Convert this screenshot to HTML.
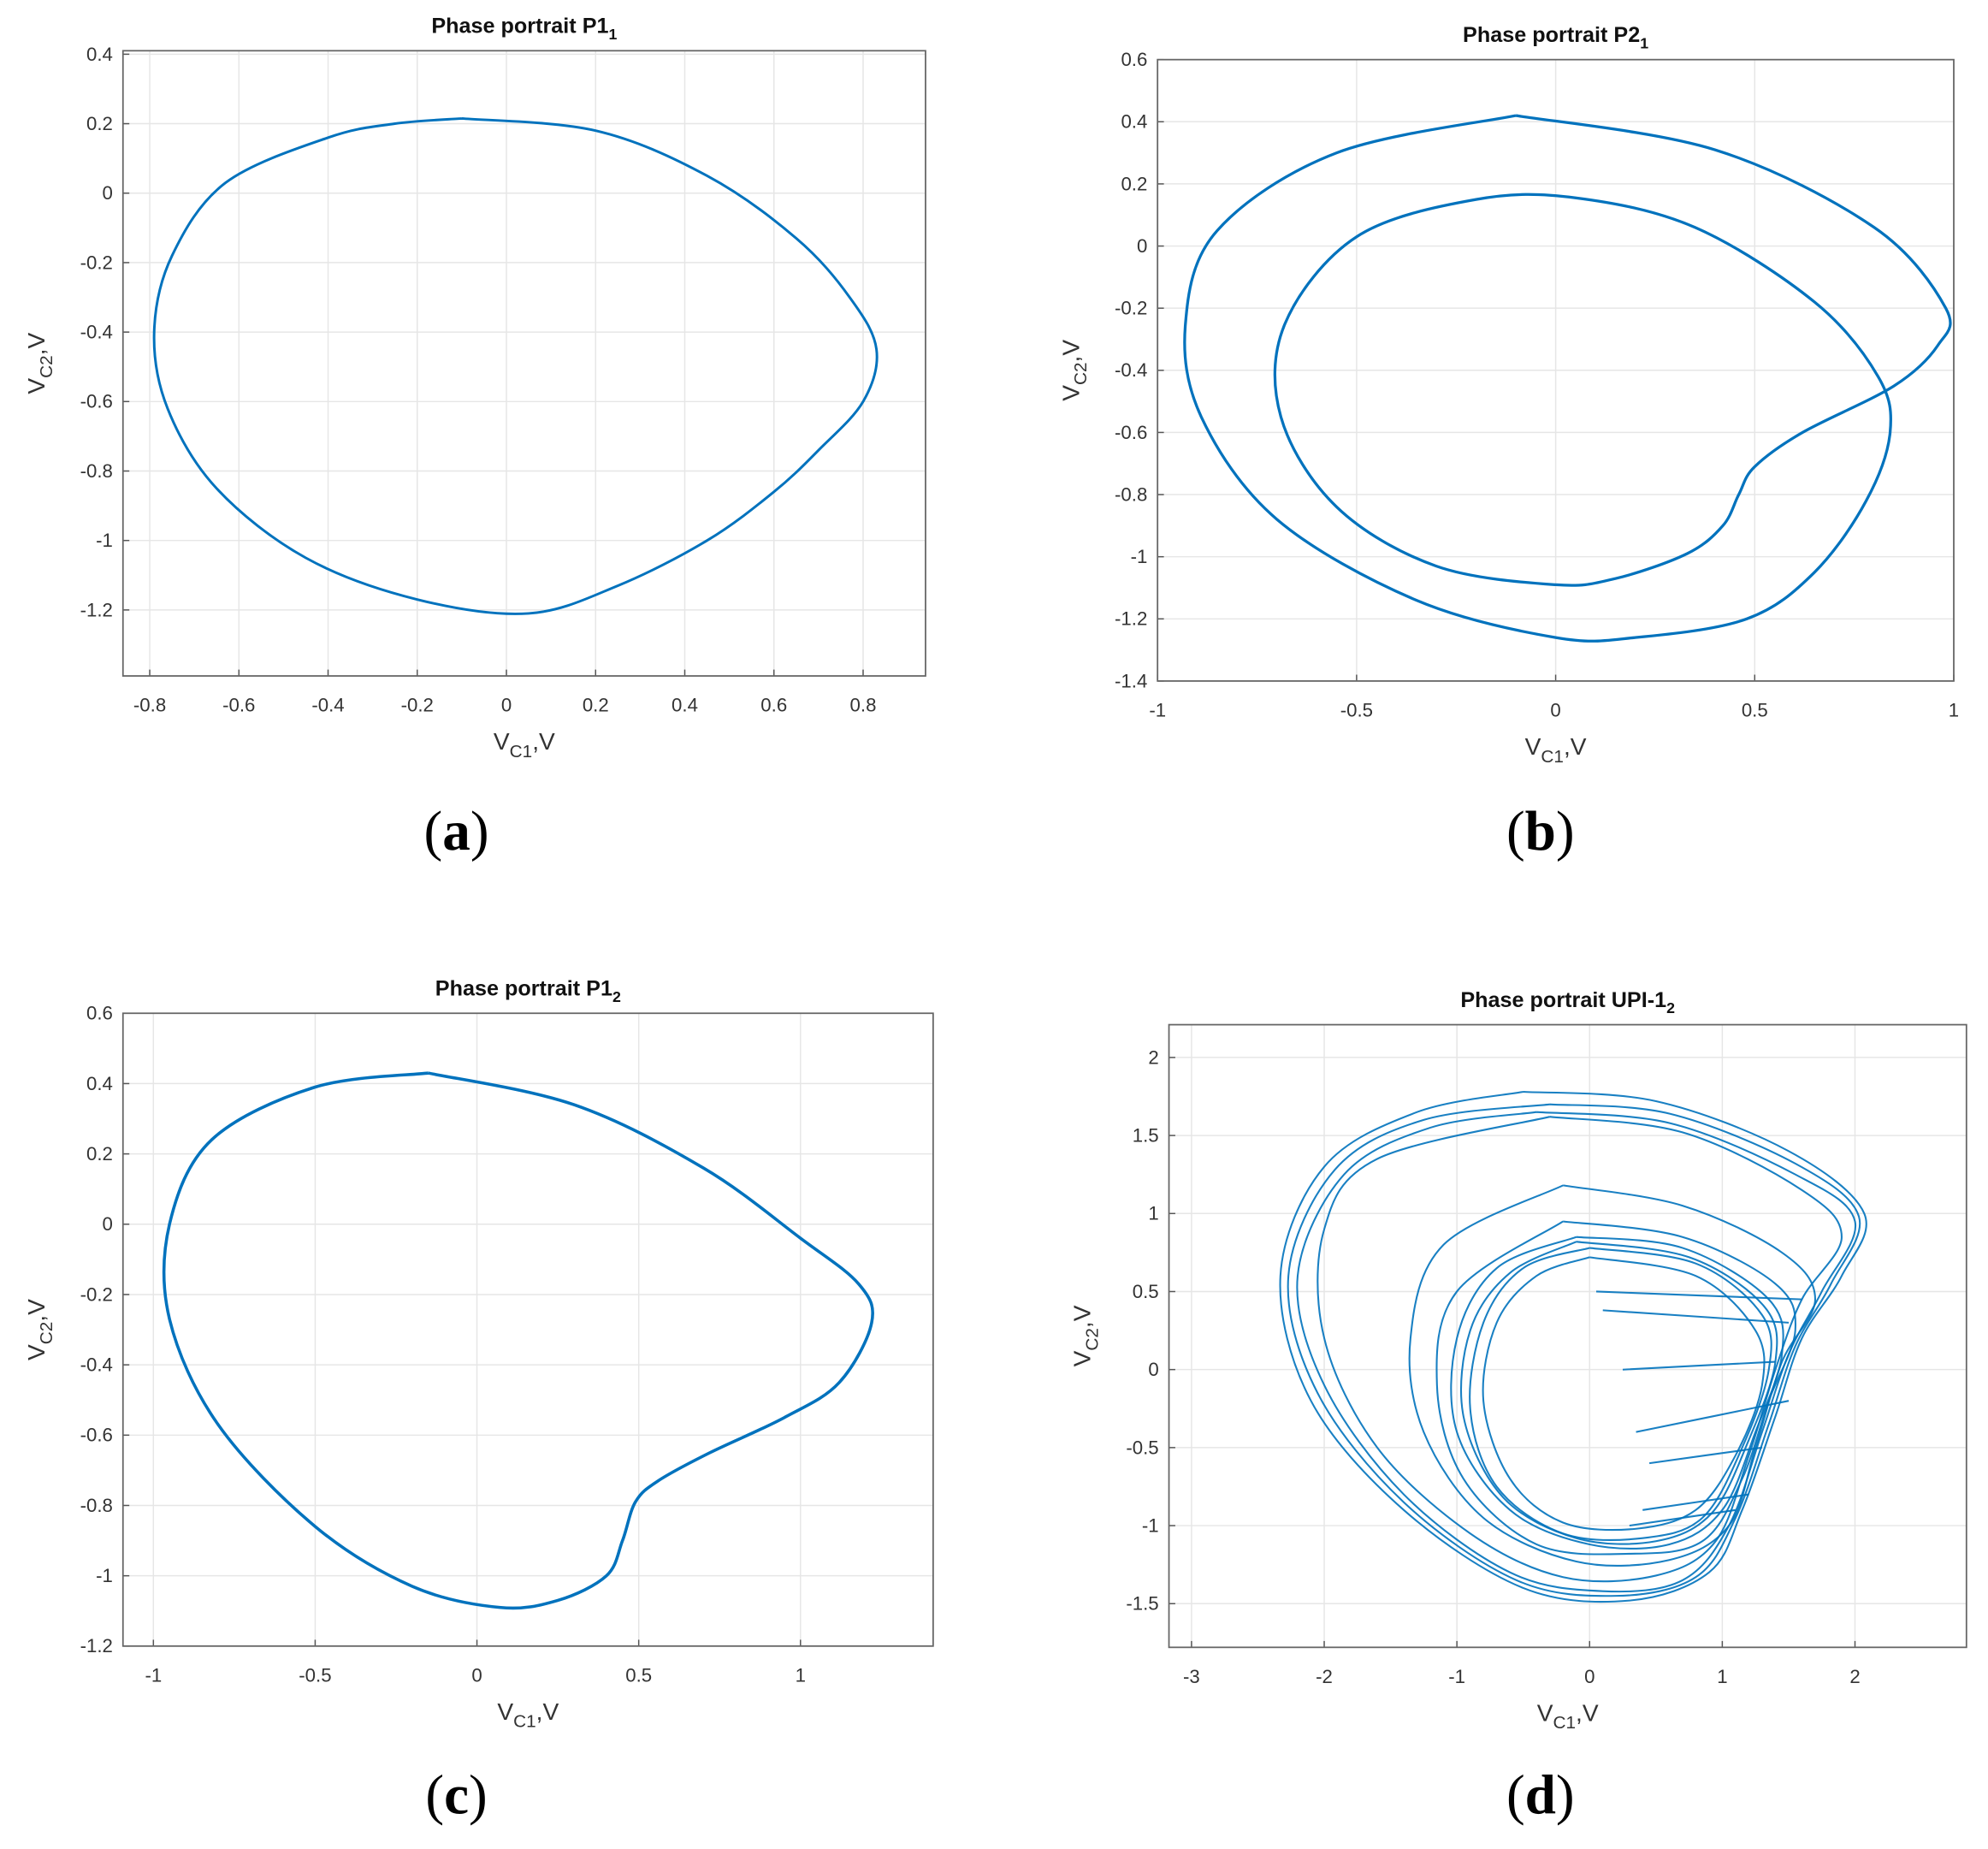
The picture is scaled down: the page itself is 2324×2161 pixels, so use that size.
<!DOCTYPE html>
<html><head><meta charset="utf-8"><style>
html,body{margin:0;padding:0;background:#fff}
svg{display:block}
text{font-family:"Liberation Sans",sans-serif}
</style></head><body>
<svg id="fig" width="2324" height="2161" viewBox="0 0 1568 1458" xmlns="http://www.w3.org/2000/svg"></svg>
<script>
// ---- Data ----
const aTrace=[[-0.1,0.215],[0.2,0.18],[0.45,0.05],[0.65,-0.13],[0.77,-0.3],[0.83,-0.45],[0.8,-0.6],[0.7,-0.74],[0.6,-0.86],[0.45,-1.0],[0.25,-1.13],[0.05,-1.21],[-0.2,-1.17],[-0.45,-1.05],[-0.65,-0.85],[-0.76,-0.62],[-0.79,-0.4],[-0.75,-0.18],[-0.63,0.03],[-0.4,0.16],[-0.25,0.2],[-0.1,0.215]];
const bTrace=[[-0.1,0.42],[0.4,0.31],[0.8,0.06],[0.98,-0.2],[0.96,-0.32],[0.85,-0.45],[0.62,-0.6],[0.5,-0.71],[0.46,-0.8],[0.42,-0.9],[0.33,-0.99],[0.15,-1.07],[0.0,-1.09],[-0.3,-1.03],[-0.55,-0.84],[-0.69,-0.55],[-0.68,-0.25],[-0.5,0.03],[-0.2,0.15],[0.05,0.155],[0.35,0.06],[0.65,-0.18],[0.81,-0.42],[0.84,-0.6],[0.78,-0.82],[0.65,-1.05],[0.48,-1.2],[0.2,-1.26],[0.0,-1.26],[-0.35,-1.14],[-0.7,-0.88],[-0.89,-0.55],[-0.93,-0.25],[-0.85,0.05],[-0.55,0.3],[-0.1,0.42]];
const cTrace=[[-0.15,0.43],[0.3,0.34],[0.7,0.16],[1.0,-0.04],[1.18,-0.17],[1.22,-0.28],[1.12,-0.45],[0.95,-0.55],[0.72,-0.65],[0.56,-0.73],[0.49,-0.79],[0.45,-0.9],[0.4,-1.0],[0.25,-1.07],[0.07,-1.09],[-0.2,-1.03],[-0.5,-0.86],[-0.8,-0.57],[-0.95,-0.27],[-0.95,0.0],[-0.82,0.24],[-0.5,0.39],[-0.15,0.43]];
const dLoops=[
[[-0.5,1.78],[0.5,1.72],[1.5,1.4],[2.07,1.0],[1.9,0.6],[1.6,0.2],[1.4,-0.3],[1.15,-0.9],[0.9,-1.3],[0.3,-1.48],[-0.5,-1.4],[-1.4,-0.9],[-2.1,-0.2],[-2.33,0.6],[-2.0,1.3],[-1.3,1.65],[-0.5,1.78]],
[[-0.4,1.65],[0.6,1.58],[1.55,1.25],[2.0,0.95],[1.75,0.5],[1.5,0.1],[1.3,-0.4],[1.05,-1.0],[0.7,-1.35],[0.1,-1.42],[-0.6,-1.3],[-1.4,-0.8],[-2.0,-0.1],[-2.2,0.6],[-1.85,1.25],[-1.2,1.55],[-0.4,1.65]],
[[-0.3,1.62],[0.7,1.52],[1.6,1.15],[1.9,0.85],[1.6,0.45],[1.4,0.0],[1.2,-0.55],[0.95,-1.1],[0.5,-1.32],[-0.2,-1.33],[-0.9,-1.05],[-1.6,-0.5],[-2.0,0.2],[-2.0,0.9],[-1.6,1.35],[-0.3,1.62]],
[[-0.2,1.18],[0.7,1.05],[1.45,0.75],[1.7,0.45],[1.45,0.05],[1.25,-0.5],[1.05,-1.0],[0.6,-1.22],[-0.1,-1.23],[-0.8,-0.95],[-1.25,-0.4],[-1.35,0.2],[-1.1,0.8],[-0.2,1.18]],
[[-0.2,0.95],[0.7,0.85],[1.4,0.55],[1.55,0.25],[1.35,-0.2],[1.15,-0.7],[0.85,-1.1],[0.3,-1.18],[-0.4,-1.12],[-0.95,-0.7],[-1.15,-0.1],[-1.0,0.5],[-0.2,0.95]],
[[-0.1,0.85],[0.7,0.78],[1.35,0.45],[1.45,0.1],[1.25,-0.4],[1.0,-0.9],[0.6,-1.12],[0.0,-1.12],[-0.6,-0.9],[-1.0,-0.4],[-1.0,0.2],[-0.7,0.65],[-0.1,0.85]],
[[0.0,0.78],[0.8,0.68],[1.3,0.35],[1.35,0.0],[1.15,-0.5],[0.85,-0.95],[0.4,-1.08],[-0.2,-1.05],[-0.7,-0.75],[-0.9,-0.25],[-0.8,0.3],[-0.5,0.65],[0.0,0.78]],
[[0.0,0.72],[0.8,0.6],[1.25,0.25],[1.3,-0.1],[1.1,-0.55],[0.8,-0.9],[0.35,-1.02],[-0.2,-0.98],[-0.6,-0.7],[-0.8,-0.2],[-0.7,0.3],[-0.4,0.6],[0.0,0.72]],
[[-0.1,0.82],[0.75,0.72],[1.32,0.4],[1.4,0.05],[1.2,-0.45],[0.92,-0.92],[0.5,-1.1],[-0.1,-1.08],[-0.65,-0.82],[-0.95,-0.3],[-0.9,0.25],[-0.6,0.62],[-0.1,0.82]],
[[-0.3,1.7],[0.6,1.64],[1.55,1.32],[2.03,0.98],[1.82,0.55],[1.55,0.15],[1.35,-0.35],[1.1,-0.95],[0.8,-1.33],[0.2,-1.45],[-0.55,-1.35],[-1.4,-0.85],[-2.05,-0.15],[-2.27,0.6],[-1.92,1.28],[-1.25,1.6],[-0.3,1.7]]];
const dSpikes=[[[0.05,0.5],[1.6,0.45]],[[0.1,0.38],[1.5,0.3]],[[0.25,0.0],[1.4,0.05]],[[0.35,-0.4],[1.5,-0.2]],[[0.45,-0.6],[1.3,-0.5]],[[0.4,-0.9],[1.2,-0.8]],[[0.3,-1.0],[1.1,-0.9]]];
const aX=[-0.8,-0.6,-0.4,-0.2,0,0.2,0.4,0.6,0.8], aY=[0.4,0.2,0,-0.2,-0.4,-0.6,-0.8,-1,-1.2];
const bX=[-1,-0.5,0,0.5,1], bY=[0.6,0.4,0.2,0,-0.2,-0.4,-0.6,-0.8,-1,-1.2,-1.4];
const cX=[-1,-0.5,0,0.5,1], cY=[0.6,0.4,0.2,0,-0.2,-0.4,-0.6,-0.8,-1,-1.2];
const dX=[-3,-2,-1,0,1,2], dY=[2,1.5,1,0.5,0,-0.5,-1,-1.5];

const NS="http://www.w3.org/2000/svg", svg=document.getElementById('fig');
function el(t,a,p){const e=document.createElementNS(NS,t);for(const k in a)e.setAttribute(k,a[k]);(p||svg).appendChild(e);return e;}
function smooth(pts,sx,sy){const P=pts.map(p=>[sx(p[0]),sy(p[1])]);let d='M'+P[0][0].toFixed(1)+','+P[0][1].toFixed(1);
 for(let i=0;i<P.length-1;i++){const p0=P[Math.max(0,i-1)],p1=P[i],p2=P[i+1],p3=P[Math.min(P.length-1,i+2)];
 d+=' C'+(p1[0]+(p2[0]-p0[0])/6).toFixed(1)+','+(p1[1]+(p2[1]-p0[1])/6).toFixed(1)+' '+(p2[0]-(p3[0]-p1[0])/6).toFixed(1)+','+(p2[1]-(p3[1]-p1[1])/6).toFixed(1)+' '+p2[0].toFixed(1)+','+p2[1].toFixed(1);}return d;}
function panel(o){
 const g=el('g',{});
 const sx=v=>o.L+(v-o.x0)/(o.x1-o.x0)*(o.R-o.L), sy=v=>o.B-(v-o.y0)/(o.y1-o.y0)*(o.B-o.T);
 o.xt.forEach(v=>{const l=el('line',{x1:sx(v),x2:sx(v),y1:o.T,y2:o.B,stroke:'#e6e6e6','stroke-width':1},g);
  el('line',{x1:sx(v),x2:sx(v),y1:o.B,y2:o.B-5,stroke:'#555'},g);
  const t=el('text',{x:sx(v),y:o.B+28,'font-size':15,'text-anchor':'middle',fill:'#333'},g);t.textContent=v;});
 o.yt.forEach(v=>{const l=el('line',{x1:o.L,x2:o.R,y1:sy(v),y2:sy(v),stroke:'#e6e6e6','stroke-width':1},g);
  el('line',{x1:o.L,x2:o.L+5,y1:sy(v),y2:sy(v),stroke:'#555'},g);
  const t=el('text',{x:o.L-8,y:sy(v)+5,'font-size':15,'text-anchor':'end',fill:'#333'},g);t.textContent=v;});
 const fr=el('rect',{x:o.L,y:o.T,width:o.R-o.L,height:o.B-o.T,fill:'none',stroke:'#666','stroke-width':1.2},g);
 o.traces.forEach(tr=>{const p=el('path',{d:smooth(tr,sx,sy),fill:'none',stroke:'#0072bd','stroke-width':o.lw,'stroke-linejoin':'round','stroke-opacity':o.op||1},g);});
 const ti=el('text',{x:(o.L+o.R)/2,y:o.T-14,'font-size':17,'font-weight':'bold','text-anchor':'middle',fill:'#111'},g);ti.innerHTML=o.title+'<tspan font-size="12" dy="5">'+o.sub+'</tspan>';
 const xl=el('text',{x:(o.L+o.R)/2,y:o.B+58,'font-size':19,'text-anchor':'middle',fill:'#333'},g);xl.innerHTML='V<tspan font-size="14" dy="6">C1</tspan><tspan dy="-6">,V</tspan>';
 const yl=el('text',{x:0,y:0,'font-size':19,'text-anchor':'middle',fill:'#333',transform:'translate('+(o.L-62)+','+(o.T+o.B)/2+') rotate(-90)'},g);yl.innerHTML='V<tspan font-size="14" dy="6">C2</tspan><tspan dy="-6">,V</tspan>';
 const lb=el('text',{x:o.lx,y:o.ly,'font-size':44,'text-anchor':'middle',fill:'#000',style:'font-family:"Liberation Serif",serif'},g);lb.innerHTML='(<tspan font-weight="bold">'+o.letter+'</tspan>)';
}
panel({name:'panel-a',L:97,R:730,T:40,B:533,x0:-0.86,x1:0.94,y0:-1.39,y1:0.41,xt:aX,yt:aY,traces:[aTrace],lw:2,title:'Phase portrait P1',sub:'1',letter:'a',lx:360,ly:670});
panel({name:'panel-b',L:913,R:1541,T:47,B:537,x0:-1,x1:1,y0:-1.4,y1:0.6,xt:bX,yt:bY,traces:[bTrace],lw:2.2,title:'Phase portrait P2',sub:'1',letter:'b',lx:1215,ly:670});
panel({name:'panel-c',L:97,R:736,T:799,B:1298,x0:-1.094,x1:1.41,y0:-1.2,y1:0.6,xt:cX,yt:cY,traces:[cTrace],lw:2.4,title:'Phase portrait P1',sub:'2',letter:'c',lx:360,ly:1430});
panel({name:'panel-d',L:922,R:1551,T:808,B:1299,x0:-3.17,x1:2.84,y0:-1.78,y1:2.21,xt:dX,yt:dY,traces:dLoops.concat(dSpikes),lw:1.4,op:0.9,title:'Phase portrait UPI-1',sub:'2',letter:'d',lx:1215,ly:1430});
</script>
</body></html>
